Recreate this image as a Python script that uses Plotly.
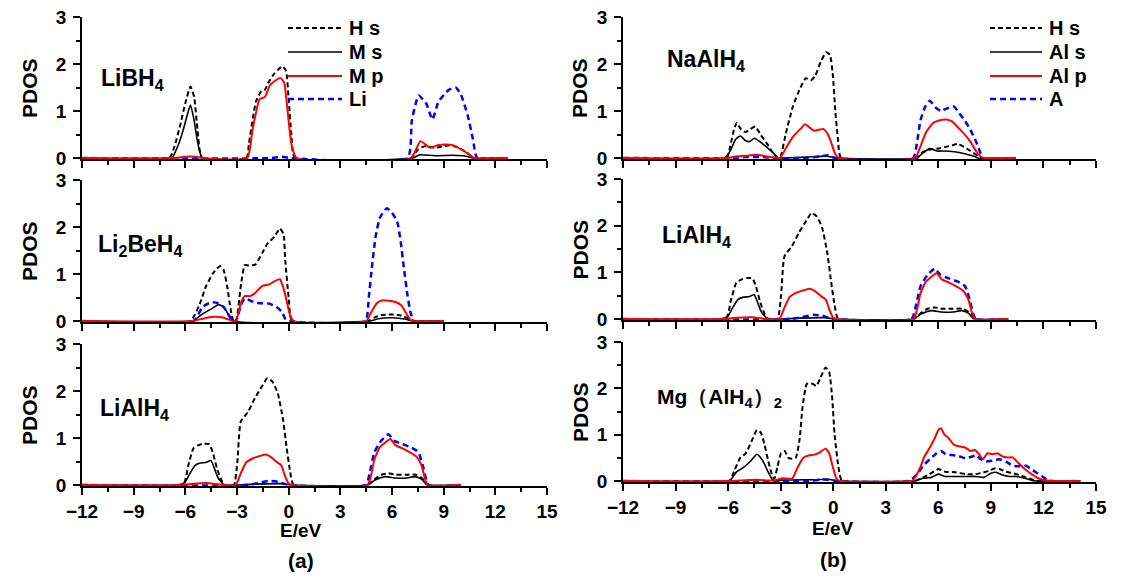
import plotly.graph_objects as go

# ---------------- data (energy in eV, PDOS values) ----------------
# LiBH4
LiBH4_Hs_E = [-12, -6.93, -6.62, -6.31, -6.0, -5.7, -5.49, -5.29, -5.02, -2.45, -2.31, -1.9, -1.59, -1.38, -1.18, -0.87, -0.56, -0.36, -0.15, -0.01, 0.16, 0.36, 7.1, 7.5, 7.9, 8.5, 9.0, 9.4, 9.9, 10.4, 10.8, 12.7]
LiBH4_Hs = [0, 0, 0.26, 0.68, 1.17, 1.52, 1.3, 0.6, 0, 0, 0.3, 1.2, 1.42, 1.45, 1.6, 1.78, 1.9, 1.95, 1.85, 1.3, 0.5, 0, 0, 0.18, 0.25, 0.22, 0.25, 0.27, 0.22, 0.1, 0, 0]
LiBH4_Ms_E = [-12, -6.8, -6.5, -6.2, -5.9, -5.7, -5.49, -5.29, -5.0, 7.2, 7.6, 8.5, 9.5, 10.3, 10.7, 12.7]
LiBH4_Ms = [0, 0, 0.2, 0.5, 0.9, 1.13, 0.8, 0.35, 0, 0, 0.07, 0.05, 0.06, 0.04, 0, 0]
LiBH4_Mp_E = [-12, -6.6, -6.0, -5.4, -5.0, -2.41, -2.1, -1.69, -1.38, -1.08, -0.77, -0.46, -0.26, -0.06, 0.16, 0.46, 7.1, 7.65, 8.2, 8.7, 9.5, 10.3, 10.8, 12.7]
LiBH4_Mp = [0, 0, 0.03, 0.03, 0, 0, 0.6, 1.25, 1.3, 1.55, 1.65, 1.7, 1.6, 1.0, 0.3, 0, 0, 0.36, 0.22, 0.28, 0.28, 0.12, 0, 0]
LiBH4_A_E = [-12, -1.0, -0.4, 0.1, 6.9, 7.15, 7.55, 8.0, 8.35, 8.7, 9.3, 9.7, 10.0, 10.4, 10.7, 10.95, 12.7]
LiBH4_A = [0, 0, 0.03, 0, 0, 0.8, 1.33, 1.15, 0.82, 1.2, 1.45, 1.5, 1.35, 0.9, 0.4, 0, 0]

# Li2BeH4
Li2BeH4_Hs_E = [-12, -5.72, -5.21, -4.80, -4.39, -3.98, -3.78, -3.57, -3.37, -3.21, -3.06, -2.76, -2.55, -2.35, -1.94, -1.53, -1.22, -0.81, -0.51, -0.30, -0.20, 0.0, 0.21, 4.6, 5.0, 5.4, 6.0, 6.5, 7.0, 7.3, 9.0]
Li2BeH4_Hs = [0, 0, 0.32, 0.74, 1.02, 1.17, 1.09, 0.74, 0.25, 0, 0, 0.8, 1.19, 1.18, 1.2, 1.45, 1.65, 1.8, 1.97, 1.85, 1.3, 0.5, 0, 0, 0.08, 0.13, 0.14, 0.12, 0.05, 0, 0]
Li2BeH4_Ms_E = [-12, -5.6, -5.0, -4.39, -4.08, -3.78, -3.47, -3.27, 4.7, 5.2, 6.0, 6.8, 7.2, 9.0]
Li2BeH4_Ms = [0, 0, 0.15, 0.28, 0.35, 0.3, 0.12, 0, 0, 0.05, 0.07, 0.04, 0, 0]
Li2BeH4_Mp_E = [-12, -5.6, -5.0, -4.39, -3.88, -3.47, -3.27, -3.06, -2.76, -2.55, -2.24, -1.94, -1.53, -1.12, -0.81, -0.51, -0.30, -0.10, 0.10, 0.31, 4.5, 4.81, 5.12, 5.42, 5.83, 6.24, 6.55, 6.85, 7.06, 7.2, 9.0]
Li2BeH4_Mp = [0, 0, 0.05, 0.09, 0.08, 0.03, 0, 0, 0.4, 0.53, 0.53, 0.6, 0.75, 0.78, 0.85, 0.89, 0.7, 0.4, 0.1, 0, 0, 0.2, 0.38, 0.44, 0.43, 0.4, 0.33, 0.15, 0.03, 0, 0]
Li2BeH4_A_E = [-12, -5.52, -5.0, -4.49, -4.09, -3.78, -3.47, -3.27, -3.06, -2.76, -2.55, -2.14, -1.73, -1.12, -0.71, -0.40, -0.20, 0.0, 4.45, 4.65, 4.85, 5.05, 5.3, 5.7, 6.0, 6.3, 6.5, 6.7, 6.9, 7.1, 7.3, 9.0]
Li2BeH4_A = [0, 0, 0.3, 0.4, 0.38, 0.3, 0.12, 0, 0, 0.35, 0.48, 0.42, 0.38, 0.37, 0.3, 0.2, 0.05, 0, 0, 0.5, 1.2, 1.8, 2.2, 2.4, 2.3, 2.12, 1.7, 1.1, 0.55, 0.15, 0, 0]

# LiAlH4
LiAlH4_Hs_E = [-12, -6.14, -5.84, -5.53, -5.22, -4.92, -4.61, -4.41, -4.16, -3.90, -3.69, -3.18, -2.98, -2.78, -2.37, -1.96, -1.55, -1.24, -0.94, -0.63, -0.33, -0.12, 0.08, 0.29, 4.57, 4.98, 5.39, 5.8, 6.2, 6.8, 7.4, 7.73, 8.1, 10.0]
LiAlH4_Hs = [0, 0, 0.4, 0.78, 0.85, 0.88, 0.87, 0.7, 0.35, 0.1, 0, 0, 0.5, 1.35, 1.55, 1.85, 2.1, 2.27, 2.2, 1.95, 1.4, 0.8, 0.3, 0, 0, 0.12, 0.22, 0.25, 0.22, 0.22, 0.22, 0.15, 0, 0]
LiAlH4_Ms_E = [-12, -6.45, -6.04, -5.73, -5.43, -5.12, -4.82, -4.51, -4.31, -4.10, -3.80, -3.59, -3.0, -2.0, -0.5, 0.2, 4.57, 4.98, 5.59, 6.2, 6.82, 7.33, 7.73, 8.04, 10.0]
LiAlH4_Ms = [0, 0, 0.05, 0.25, 0.42, 0.47, 0.48, 0.52, 0.35, 0.15, 0.02, 0, 0, 0.02, 0.03, 0, 0, 0.1, 0.18, 0.15, 0.15, 0.18, 0.12, 0, 0]
LiAlH4_Mp_E = [-12, -6.3, -5.5, -4.6, -4.2, -3.8, -3.08, -2.78, -2.47, -2.06, -1.65, -1.35, -1.04, -0.73, -0.43, -0.22, -0.02, 0.18, 4.57, 4.78, 4.98, 5.29, 5.59, 5.90, 6.20, 6.61, 7.02, 7.43, 7.73, 7.94, 8.08, 10.0]
LiAlH4_Mp = [0, 0, 0.03, 0.04, 0.02, 0, 0, 0.25, 0.48, 0.57, 0.62, 0.65, 0.6, 0.5, 0.42, 0.2, 0.04, 0, 0, 0.2, 0.55, 0.8, 0.9, 0.98, 0.85, 0.78, 0.7, 0.6, 0.4, 0.1, 0, 0]
LiAlH4_A_E = [-12, -2.5, -1.8, -1.14, -0.6, -0.2, 0.1, 4.47, 4.73, 4.98, 5.39, 5.80, 6.10, 6.61, 7.12, 7.53, 7.80, 8.00, 8.14, 10.0]
LiAlH4_A = [0, 0, 0.04, 0.09, 0.07, 0.02, 0, 0, 0.3, 0.7, 0.95, 1.08, 0.95, 0.87, 0.8, 0.7, 0.4, 0.1, 0, 0]

# NaAlH4
NaAlH4_Hs_E = [-12, -6.09, -5.88, -5.67, -5.50, -5.25, -5.0, -4.72, -4.45, -4.15, -3.77, -3.45, -3.14, -3.03, -2.72, -2.30, -1.87, -1.56, -1.28, -1.03, -0.71, -0.40, -0.19, -0.03, 0.12, 0.27, 0.45, 4.77, 5.09, 5.51, 5.93, 6.35, 6.78, 7.09, 7.41, 7.83, 8.25, 8.46, 10.4]
NaAlH4_Hs = [0, 0, 0.25, 0.6, 0.75, 0.6, 0.55, 0.62, 0.67, 0.5, 0.3, 0.12, 0, 0, 0.5, 1.1, 1.5, 1.7, 1.65, 1.75, 2.05, 2.25, 2.2, 1.8, 1.0, 0.4, 0, 0, 0.12, 0.18, 0.2, 0.23, 0.27, 0.3, 0.25, 0.15, 0.05, 0, 0]
NaAlH4_Ms_E = [-12, -6.2, -5.88, -5.57, -5.29, -5.04, -4.78, -4.51, -4.19, -3.77, -3.35, -3.14, -3.0, -1.5, -0.4, 0.3, 4.77, 5.09, 5.51, 5.93, 6.35, 6.78, 7.20, 7.62, 8.04, 8.25, 10.4]
NaAlH4_Ms = [0, 0, 0.15, 0.4, 0.47, 0.38, 0.35, 0.42, 0.35, 0.22, 0.08, 0, 0, 0.02, 0.04, 0, 0, 0.1, 0.2, 0.15, 0.15, 0.14, 0.12, 0.08, 0.04, 0, 0]
NaAlH4_Mp_E = [-12, -6.1, -5.5, -4.9, -4.4, -3.9, -3.2, -3.03, -2.72, -2.30, -1.87, -1.60, -1.35, -1.09, -0.82, -0.57, -0.30, -0.09, 0.12, 0.34, 4.67, 4.98, 5.30, 5.72, 6.04, 6.46, 6.78, 7.20, 7.51, 7.83, 8.15, 8.46, 8.63, 10.4]
NaAlH4_Mp = [0, 0, 0.04, 0.05, 0.07, 0.04, 0, 0, 0.2, 0.45, 0.62, 0.72, 0.65, 0.58, 0.6, 0.62, 0.5, 0.3, 0.08, 0, 0, 0.25, 0.55, 0.75, 0.8, 0.82, 0.78, 0.62, 0.5, 0.35, 0.15, 0.02, 0, 0]
NaAlH4_A_E = [-12, -5.8, -5.0, -4.0, -3.3, -1.5, -0.7, -0.3, 0.1, 4.56, 4.77, 4.98, 5.26, 5.51, 5.83, 6.14, 6.46, 6.88, 7.20, 7.51, 7.83, 8.15, 8.36, 8.57, 10.4]
NaAlH4_A = [0, 0, 0.02, 0.02, 0, 0, 0.04, 0.06, 0, 0, 0.3, 0.8, 1.1, 1.22, 1.08, 1.0, 1.05, 1.1, 0.95, 0.8, 0.6, 0.35, 0.15, 0, 0]

# Mg(AlH4)2
MgAlH42_Hs_E = [-12, -5.94, -5.62, -5.31, -4.99, -4.67, -4.36, -4.14, -3.93, -3.72, -3.51, -3.36, -3.19, -2.98, -2.77, -2.56, -2.35, -2.14, -1.92, -1.75, -1.50, -1.18, -0.97, -0.76, -0.44, -0.23, -0.06, 0.08, 0.30, 0.51, 4.64, 5.13, 5.51, 6.0, 6.39, 6.97, 7.55, 8.13, 8.51, 8.9, 9.19, 9.48, 9.87, 10.25, 10.64, 11.0, 11.4, 11.7, 14.1]
MgAlH42_Hs = [0, 0, 0.25, 0.5, 0.6, 0.85, 1.1, 1.05, 0.8, 0.45, 0.15, 0.05, 0.3, 0.6, 0.65, 0.5, 0.48, 0.5, 0.9, 1.6, 2.1, 2.1, 2.05, 2.2, 2.45, 2.35, 1.8, 1.0, 0.3, 0, 0, 0.08, 0.15, 0.26, 0.2, 0.19, 0.15, 0.15, 0.18, 0.22, 0.27, 0.26, 0.2, 0.17, 0.13, 0.08, 0.03, 0, 0]
MgAlH42_Ms_E = [-12, -5.94, -5.52, -5.1, -4.67, -4.36, -4.04, -3.72, -3.45, -3.3, -3.0, -1.0, -0.3, 0.3, 4.64, 5.13, 5.6, 6.0, 6.39, 6.97, 7.55, 8.13, 8.61, 9.0, 9.29, 9.67, 10.06, 10.45, 10.93, 11.4, 11.6, 14.1]
MgAlH42_Ms = [0, 0, 0.2, 0.3, 0.45, 0.58, 0.45, 0.2, 0.02, 0, 0.02, 0.03, 0.04, 0, 0, 0.06, 0.08, 0.15, 0.1, 0.1, 0.1, 0.1, 0.08, 0.17, 0.19, 0.13, 0.1, 0.1, 0.06, 0.01, 0, 0]
MgAlH42_Mp_E = [-12, -6.0, -5.0, -4.3, -3.6, -3.3, -2.9, -2.35, -2.03, -1.71, -1.40, -1.08, -0.76, -0.44, -0.23, -0.02, 0.19, 0.40, 4.4, 4.55, 4.93, 5.22, 5.51, 5.8, 6.0, 6.15, 6.35, 6.58, 6.87, 7.16, 7.55, 7.84, 8.09, 8.32, 8.55, 8.8, 9.09, 9.38, 9.67, 9.96, 10.25, 10.54, 10.93, 11.32, 11.7, 12.2, 12.6, 14.1]
MgAlH42_Mp = [0, 0, 0.02, 0.03, 0.01, 0.02, 0.06, 0.05, 0.3, 0.5, 0.55, 0.57, 0.62, 0.7, 0.6, 0.3, 0.05, 0, 0, 0.02, 0.26, 0.54, 0.72, 0.93, 1.1, 1.14, 1.0, 0.93, 0.79, 0.75, 0.72, 0.65, 0.67, 0.58, 0.47, 0.6, 0.58, 0.6, 0.53, 0.51, 0.51, 0.4, 0.26, 0.15, 0.06, 0.01, 0, 0]
MgAlH42_A_E = [-12, -1.5, -0.8, -0.3, 0.2, 4.26, 4.74, 5.13, 5.51, 5.9, 6.15, 6.42, 6.77, 7.16, 7.55, 7.93, 8.16, 8.42, 8.7, 9.09, 9.48, 9.87, 10.25, 10.64, 11.0, 11.4, 11.9, 12.3, 12.5, 14.1]
MgAlH42_A = [0, 0, 0.03, 0.03, 0, 0, 0.12, 0.33, 0.47, 0.6, 0.65, 0.58, 0.56, 0.54, 0.49, 0.53, 0.56, 0.47, 0.42, 0.44, 0.47, 0.42, 0.33, 0.32, 0.33, 0.23, 0.11, 0.01, 0, 0]

# panel labels and legend names
PANEL_LABELS = ["LiBH<sub>4</sub>", "Li<sub>2</sub>BeH<sub>4</sub>", "LiAlH<sub>4</sub>",
                "NaAlH<sub>4</sub>", "LiAlH<sub>4</sub>", "Mg（AlH<sub>4</sub>）<sub>2</sub>"]
LEGEND_LEFT = ["H s", "M s", "M p", "Li"]
LEGEND_RIGHT = ["H s", "Al s", "Al p", "A"]
X_TICKS = [-12, -9, -6, -3, 0, 3, 6, 9, 12, 15]
Y_TICKS = [0, 1, 2, 3]

# ---------------- figure ----------------
FONT = "Liberation Sans, Arial, sans-serif"
W, H = 1133, 588

panels = [
    (LiBH4_Hs_E, LiBH4_Hs, LiBH4_Ms_E, LiBH4_Ms, LiBH4_Mp_E, LiBH4_Mp, LiBH4_A_E, LiBH4_A),
    (Li2BeH4_Hs_E, Li2BeH4_Hs, Li2BeH4_Ms_E, Li2BeH4_Ms, Li2BeH4_Mp_E, Li2BeH4_Mp, Li2BeH4_A_E, Li2BeH4_A),
    (LiAlH4_Hs_E, LiAlH4_Hs, LiAlH4_Ms_E, LiAlH4_Ms, LiAlH4_Mp_E, LiAlH4_Mp, LiAlH4_A_E, LiAlH4_A),
    (NaAlH4_Hs_E, NaAlH4_Hs, NaAlH4_Ms_E, NaAlH4_Ms, NaAlH4_Mp_E, NaAlH4_Mp, NaAlH4_A_E, NaAlH4_A),
    (LiAlH4_Hs_E, LiAlH4_Hs, LiAlH4_Ms_E, LiAlH4_Ms, LiAlH4_Mp_E, LiAlH4_Mp, LiAlH4_A_E, LiAlH4_A),
    (MgAlH42_Hs_E, MgAlH42_Hs, MgAlH42_Ms_E, MgAlH42_Ms, MgAlH42_Mp_E, MgAlH42_Mp, MgAlH42_A_E, MgAlH42_A),
]

# pixel geometry (column x extents, panel y extents per column) -> paper domains
x_px = [(82, 547), (623, 1096)]
y_px = [[(17, 159), (180, 322), (344, 486)],
        [(17, 159), (179, 320), (342, 482)]]
label_pos = [(-11.0, 1.68), (-11.2, 1.6), (-11.1, 1.6), (-9.6, 2.08), (-9.9, 1.76), (-10.2, 1.8)]
label_size = [23, 23, 23, 23, 23, 21]
pdos_x = [30, 580]
legend_px = [(288, 342, 347), (990, 1042, 1047)]   # line start, line end, text start
legend_rows = [28, 52, 76, 99]

styles = [
    dict(color="black", width=2, dash="5px,3px"),
    dict(color="black", width=1.6, dash="solid"),
    dict(color="#ff0000", width=2, dash="solid"),
    dict(color="#0000ff", width=2.5, dash="6px,4px"),
]
draw_order = [0, 1, 3, 2]

fig = go.Figure()
layout = dict(width=W, height=H, margin=dict(l=0, r=0, t=0, b=0, autoexpand=False),
              paper_bgcolor="white", plot_bgcolor="white", showlegend=False,
              font=dict(family=FONT, size=19, color="black"))
annotations = []
shapes = []

for i, p in enumerate(panels):
    col, row = divmod(i, 3)
    ax = "" if i == 0 else str(i + 1)
    xa, ya = "x" + ax, "y" + ax
    names = LEGEND_LEFT if col == 0 else LEGEND_RIGHT
    for k in draw_order:
        fig.add_trace(go.Scatter(
            x=p[2 * k], y=p[2 * k + 1], mode="lines",
            line=dict(shape="spline", smoothing=0.5, **styles[k]),
            name=names[k], xaxis=xa, yaxis=ya, hoverinfo="skip"))
    x0, x1 = x_px[col]
    yt, yb = y_px[col][row]
    layout["xaxis" + ax] = dict(
        domain=[x0 / W, x1 / W], range=[-12, 15], anchor=ya, automargin=False,
        tickvals=X_TICKS, ticks="outside", ticklen=7, tickwidth=1.5, tickcolor="black",
        minor=dict(ticks="outside", dtick=1.5, tick0=-12, ticklen=4, tickwidth=1.5, tickcolor="black"),
        showline=True, linecolor="black", linewidth=1.5, showgrid=False, zeroline=False,
        showticklabels=(row == 2), ticklabelstandoff=0,
        tickfont=dict(family=FONT, size=19, weight="bold"))
    layout["yaxis" + ax] = dict(
        domain=[1 - yb / H, 1 - yt / H], range=[-0.02, 3.0], anchor=xa, automargin=False,
        tickvals=Y_TICKS, ticks="outside", ticklen=7, tickwidth=1.5, tickcolor="black",
        minor=dict(ticks="outside", dtick=0.5, tick0=0, ticklen=4, tickwidth=1.5, tickcolor="black"),
        showline=True, linecolor="black", linewidth=1.5, showgrid=False, zeroline=False,
        ticklabelstandoff=3,
        tickfont=dict(family=FONT, size=19, weight="bold"))
    # panel label
    lx, ly = label_pos[i]
    annotations.append(dict(text=PANEL_LABELS[i], x=lx, y=ly, xref=xa, yref=ya,
                            xanchor="left", yanchor="middle", showarrow=False,
                            font=dict(family=FONT, size=label_size[i], weight="bold")))
    # y title
    annotations.append(dict(text="PDOS", x=pdos_x[col] / W, y=1 - (yt + yb) / 2 / H,
                            xref="paper", yref="paper", textangle=-90, showarrow=False,
                            xanchor="center", yanchor="middle",
                            font=dict(family=FONT, size=21, weight="bold")))

# legends (one per column, in the top panel)
for col, names in enumerate([LEGEND_LEFT, LEGEND_RIGHT]):
    ls, le, lt = legend_px[col]
    for k, name in enumerate(names):
        yy = 1 - legend_rows[k] / H
        shapes.append(dict(type="line", xref="paper", yref="paper",
                           x0=ls / W, x1=le / W, y0=yy, y1=yy, line=styles[k]))
        annotations.append(dict(text=name, x=lt / W, y=yy, xref="paper", yref="paper",
                                xanchor="left", yanchor="middle", showarrow=False,
                                font=dict(family=FONT, size=20, weight="bold")))

# bottom titles
annotations.append(dict(text="E/eV", x=0.7, y=1 - 543 / H, xref="x3", yref="paper",
                        showarrow=False, font=dict(family=FONT, size=19, weight="bold")))
annotations.append(dict(text="E/eV", x=0.0, y=1 - 541 / H, xref="x6", yref="paper",
                        showarrow=False, font=dict(family=FONT, size=19, weight="bold")))
annotations.append(dict(text="(a)", x=0.7, y=1 - 574 / H, xref="x3", yref="paper",
                        showarrow=False, font=dict(family=FONT, size=21, weight="bold")))
annotations.append(dict(text="(b)", x=0.0, y=1 - 573 / H, xref="x6", yref="paper",
                        showarrow=False, font=dict(family=FONT, size=21, weight="bold")))

layout["annotations"] = annotations
layout["shapes"] = shapes

fig.update_layout(**layout)
# remove the browser's default 8px page margin so the figure sits at the window origin
fig.write_html("out.html", config={"displayModeBar": False},
               post_script="document.body.style.margin='0px';")
